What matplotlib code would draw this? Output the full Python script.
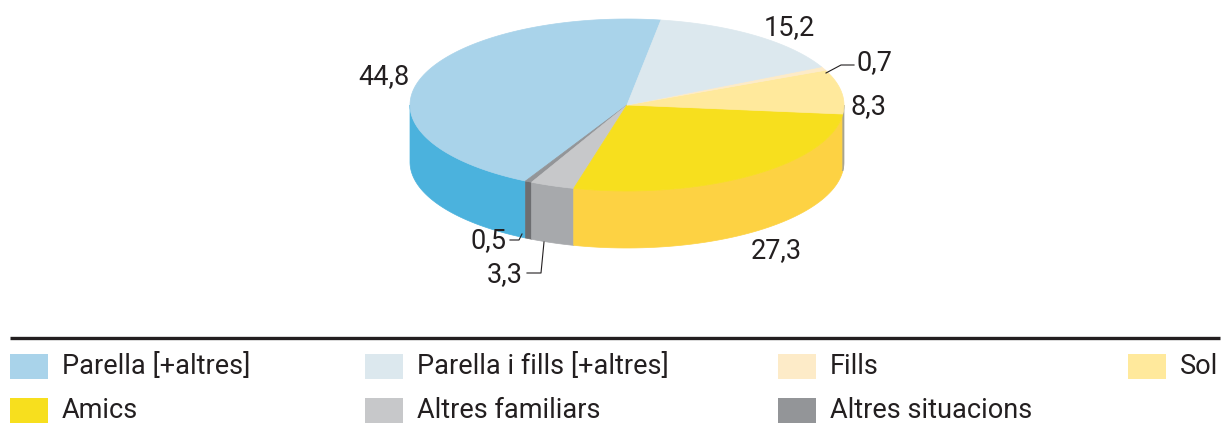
import numpy as np
import matplotlib
matplotlib.use("Agg")
import matplotlib.pyplot as plt
from matplotlib.patches import Polygon, Rectangle

plt.rcParams['font.family'] = ['Roboto', 'DejaVu Sans']
plt.rcParams['font.weight'] = 'normal'

# Data (pie order, counter-clockwise from the top)
categories = ["Parella [+altres]", "Altres situacions", "Altres familiars", "Amics",
              "Sol", "Fills", "Parella i fills [+altres]"]
values = [44.8, 0.5, 3.3, 27.3, 8.3, 0.7, 15.2]
value_labels = ["44,8", "0,5", "3,3", "27,3", "8,3", "0,7", "15,2"]
top_colors = ["#A9D3EA", "#939598", "#C7C8CA", "#F7DF1E", "#FFE99C", "#FDEBC8", "#DCE8EE"]
side_colors = ["#4BB2DD", "#6D6E71", "#A7A9AC", "#FDD243", "#A8A48E", "#D9CFAE", "#B9C4C9"]

legend_rows = [["Parella [+altres]", "Parella i fills [+altres]", "Fills", "Sol"],
               ["Amics", "Altres familiars", "Altres situacions"]]

W, H = 1223, 432
fig = plt.figure(figsize=(W / 100, H / 100), dpi=100)
ax = fig.add_axes([0, 0, 1, 1])
ax.set_xlim(0, W)
ax.set_ylim(H, 0)
ax.axis("off")

cx, cy, a, b, depth = 627, 105, 217, 86, 57
start = 81.0
total = sum(values)

def pt(t, dy=0.0):
    r = np.radians(t)
    return cx + a * np.cos(r), cy - b * np.sin(r) + dy

bounds = []
t = start
for v in values:
    t2 = t + 360.0 * v / total
    bounds.append((t, t2))
    t = t2

# sides (visible for angles in [180, 360] mod 360)
for (t1, t2), col in zip(bounds, side_colors):
    for off in (0, 360, -360):
        lo = max(t1, 180 + off)
        hi = min(t2, 360 + off)
        if hi > lo:
            ts = np.linspace(lo, hi, 60)
            top = [pt(x) for x in ts]
            bot = [pt(x, depth) for x in ts[::-1]]
            ax.add_patch(Polygon(top + bot, closed=True, facecolor=col,
                                 edgecolor=col, linewidth=0.5))

# tops
for (t1, t2), col in zip(bounds, top_colors):
    ts = np.linspace(t1, t2, 120)
    poly = [(cx, cy)] + [pt(x) for x in ts]
    ax.add_patch(Polygon(poly, closed=True, facecolor=col, edgecolor=col, linewidth=0.5))

# value labels
fs = 19.5
tc = "#231F20"
lab = dict(zip(categories, value_labels))
ax.text(410, 77, lab["Parella [+altres]"], fontsize=fs, ha="right", va="center", color=tc)
ax.text(789, 28, lab["Parella i fills [+altres]"], fontsize=fs, ha="center", va="center", color=tc)
ax.text(856, 63, lab["Fills"], fontsize=fs, ha="left", va="center", color=tc)
ax.plot([826, 841, 854], [73, 65, 65], color=tc, lw=0.8)
ax.text(850, 107, lab["Sol"], fontsize=fs, ha="left", va="center", color=tc)
ax.text(776, 251, lab["Amics"], fontsize=fs, ha="center", va="center", color=tc)
ax.text(507, 241, lab["Altres situacions"], fontsize=fs, ha="right", va="center", color=tc)
ax.plot([510, 519, 522], [240, 240, 234], color=tc, lw=0.8)
ax.text(523, 275, lab["Altres familiars"], fontsize=fs, ha="right", va="center", color=tc)
ax.plot([527, 541, 544], [273, 273, 242], color=tc, lw=0.8)

# legend
ax.plot([10, 1220], [338, 338], color=tc, lw=2.4, solid_capstyle="butt")
col_x = [10, 365, 778, 1128]
row_y = [366, 410]
leg_col = dict(zip(categories, top_colors))
for r, row in enumerate(legend_rows):
    for c, name in enumerate(row):
        x0 = col_x[c]
        y0 = row_y[r]
        ax.add_patch(Rectangle((x0, y0 - 12), 38, 25, facecolor=leg_col[name], edgecolor="none"))
        ax.text(x0 + 52, y0 + 1, name, fontsize=fs, ha="left", va="center", color=tc)

fig.savefig("out.png", dpi=100)
